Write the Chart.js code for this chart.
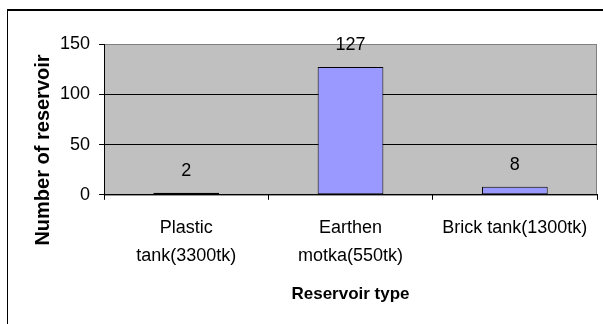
<!DOCTYPE html>
<html lang="en">
<head>
    <meta charset="UTF-8">
    <title>Reservoir type</title>
    <script src="https://cdn.jsdelivr.net/npm/chart.js@4.4.0/dist/chart.umd.min.js"></script>
    <style>
        html, body {
            margin: 0;
            padding: 0;
            background: #ffffff;
            overflow: hidden;
        }
        /* the outer chart frame, cut off on the right and bottom like the original */
        .frame {
            position: absolute;
            left: 7px;
            top: 9px;
            width: 700px;
            height: 400px;
            border-top: 2px solid #000;
            border-left: 1px solid #000;
        }
        .wrap {
            position: absolute;
            left: 0;
            top: 0;
            width: 603px;
            height: 324px;
        }
    </style>
</head>
<body>
    <div class="frame"></div>
    <div class="wrap"><canvas id="reservoirChart"></canvas></div>

    <script>
        // Data
        const categories = [['Plastic', 'tank(3300tk)'], ['Earthen', 'motka(550tk)'], 'Brick tank(1300tk)'];
        const reservoirCounts = [2, 127, 8];
        const yMin = 0;
        const yMax = 150;
        const yStep = 50;
        const xTitle = 'Reservoir type';
        const yTitle = 'Number of reservoir';

        const fontFamily = '"Liberation Sans", Arial, sans-serif';

        // Grey plot area with a grey frame, like old Excel charts
        const plotBackground = {
            id: 'plotBackground',
            beforeDraw(chart) {
                const { ctx, chartArea: a } = chart;
                ctx.save();
                ctx.fillStyle = '#c0c0c0';
                ctx.fillRect(a.left, a.top, a.right - a.left, a.bottom - a.top);
                ctx.strokeStyle = '#808080';
                ctx.lineWidth = 1;
                ctx.strokeRect(a.left + 0.5, a.top + 0.5, a.right - a.left - 1, a.bottom - a.top);
                ctx.restore();
            }
        };

        // Value labels above each bar
        const barValues = {
            id: 'barValues',
            afterDatasetsDraw(chart) {
                const { ctx } = chart;
                const meta = chart.getDatasetMeta(0);
                ctx.save();
                ctx.font = '18px ' + fontFamily;
                ctx.fillStyle = '#000';
                ctx.textAlign = 'center';
                ctx.textBaseline = 'middle';
                meta.data.forEach((bar, i) => {
                    ctx.fillText(String(reservoirCounts[i]), bar.x, bar.y - 22);
                });
                ctx.restore();
            }
        };

        // Y axis title, centred lower than the plot area as in the original
        const yAxisTitle = {
            id: 'yAxisTitle',
            afterDraw(chart) {
                const { ctx, chartArea: a } = chart;
                ctx.save();
                ctx.font = 'bold 20px ' + fontFamily;
                ctx.fillStyle = '#000';
                ctx.textAlign = 'center';
                ctx.textBaseline = 'middle';
                ctx.translate(a.left - 61, 150);
                ctx.rotate(-Math.PI / 2);
                ctx.fillText(yTitle, 0, 0);
                ctx.restore();
            }
        };

        const ctx = document.getElementById('reservoirChart').getContext('2d');
        new Chart(ctx, {
            type: 'bar',
            data: {
                labels: categories,
                datasets: [{
                    data: reservoirCounts,
                    backgroundColor: '#9999ff',
                    borderColor: '#000000',
                    borderWidth: 1,
                    borderSkipped: false,
                    categoryPercentage: 0.8,
                    barPercentage: 0.5
                }]
            },
            options: {
                responsive: true,
                maintainAspectRatio: false,
                animation: false,
                layout: {
                    padding: { left: 51, right: 6, top: 44, bottom: 19 }
                },
                plugins: {
                    legend: { display: false },
                    tooltip: { enabled: false }
                },
                scales: {
                    x: {
                        grid: {
                            offset: true,
                            drawOnChartArea: false,
                            drawTicks: true,
                            tickLength: 5,
                            tickColor: '#000'
                        },
                        border: { color: '#000', width: 1 },
                        ticks: {
                            color: '#000',
                            padding: 14,
                            maxRotation: 0,
                            autoSkip: false,
                            font: { family: fontFamily, size: 18, lineHeight: 1.55 }
                        },
                        title: {
                            display: true,
                            text: xTitle,
                            color: '#000',
                            padding: { top: 1, bottom: 0 },
                            font: { family: fontFamily, size: 17, weight: 'bold' }
                        }
                    },
                    y: {
                        min: yMin,
                        max: yMax,
                        grid: {
                            color: c => (c.tick && c.tick.value === yMax) ? '#808080' : '#000',
                            tickColor: '#000',
                            tickLength: 5
                        },
                        border: { color: '#000', width: 1 },
                        ticks: {
                            stepSize: yStep,
                            color: '#000',
                            padding: 9,
                            font: { family: fontFamily, size: 18 }
                        }
                    }
                }
            },
            plugins: [plotBackground, barValues, yAxisTitle]
        });
    </script>
</body>
</html>
